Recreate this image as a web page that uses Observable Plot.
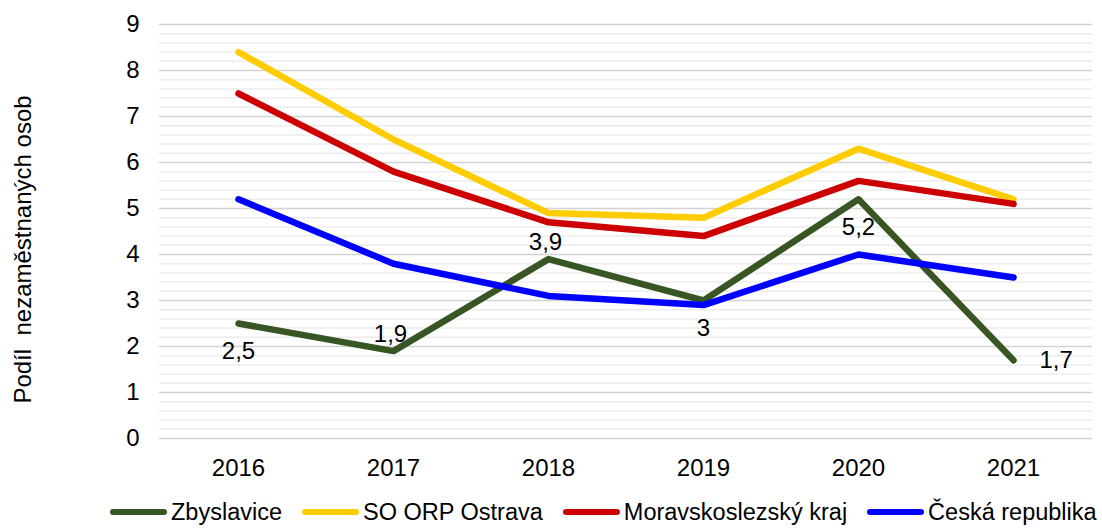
<!DOCTYPE html>
<html>
<head>
<meta charset="utf-8">
<script src="https://cdn.jsdelivr.net/npm/d3@7"></script>
<script src="https://cdn.jsdelivr.net/npm/@observablehq/plot@0.6"></script>
<style>
  html, body { margin: 0; padding: 0; background: #fff; }
  body { width: 1102px; height: 529px; overflow: hidden; font-family: "Liberation Sans", Arial, sans-serif; }
  svg text { white-space: pre; }
  #legend { display: flex; align-items: center; height: 34px; padding-left: 110px; font-size: 23.5px; color: #000; white-space: nowrap; width: 1200px; }
  .item { display: flex; align-items: center; margin-right: 20px; flex-shrink: 0; white-space: nowrap; }
  .sw { width: 57px; height: 6.5px; border-radius: 3.25px; margin-right: 4px; flex-shrink: 0; }
</style>
</head>
<body>
<div id="chart"></div>
<div id="legend"></div>
<script>
const years = ["2016", "2017", "2018", "2019", "2020", "2021"];
const seriesNames = ["Zbyslavice", "SO ORP Ostrava", "Moravskoslezský kraj", "Česká republika"];
const seriesColors = ["#375623", "#ffcc00", "#cc0000", "#0000ff"];
const zbyslavice = [2.5, 1.9, 3.9, 3.0, 5.2, 1.7];
const soOrpOstrava = [8.4, 6.5, 4.9, 4.8, 6.3, 5.2];
const msKraj = [7.5, 5.8, 4.7, 4.4, 5.6, 5.1];
const ceskaRepublika = [5.2, 3.8, 3.1, 2.9, 4.0, 3.5];
const zbyLabelPos = ["below", "above", "above", "below", "below", "right"];
const yTicks = [0, 1, 2, 3, 4, 5, 6, 7, 8, 9];
const yTitle = "Podíl  nezaměstnaných osob";

const seriesValues = [zbyslavice, soOrpOstrava, msKraj, ceskaRepublika];
const rows = [];
seriesNames.forEach((name, i) => {
  years.forEach((yr, j) => rows.push({series: name, year: yr, value: seriesValues[i][j]}));
});
const zbyRows = years.map((yr, j) => ({year: yr, value: zbyslavice[j], pos: zbyLabelPos[j]}));
const fmt = v => String(v).replace(".", ",");
const minorGrid = d3.range(0, 9.001, 0.2).map(v => +v.toFixed(1)).filter(v => !yTicks.includes(v));

const font = "Liberation Sans, Arial, sans-serif";
const chart = Plot.plot({
  width: 1102,
  height: 495,
  marginLeft: 159,
  marginRight: 10,
  marginTop: 24,
  marginBottom: 57,
  style: {fontFamily: font, fontSize: "24px", color: "#000", background: "#fff"},
  x: {type: "point", domain: years, padding: 0.5, label: null},
  y: {domain: [0, 9], label: null},
  color: {domain: seriesNames, range: seriesColors},
  marks: [
    Plot.ruleY(minorGrid, {stroke: "#ececec", strokeWidth: 1.5}),
    Plot.ruleY(yTicks, {stroke: "#d3d3d3", strokeWidth: 1.5}),
    Plot.axisX({tickSize: 0, tickPadding: 20, fontSize: 24, label: null}),
    Plot.axisY({ticks: yTicks, tickSize: 0, tickPadding: 20, fontSize: 24, label: null}),
    Plot.text([yTitle], {frameAnchor: "left", textAnchor: "middle", text: d => d, rotate: -90, dx: -136, dy: 18, fontSize: 24, fill: "#000"}),
    Plot.line(rows, {x: "year", y: "value", z: "series", stroke: "series", strokeWidth: 6.5, strokeLinecap: "round", strokeLinejoin: "round"}),
    Plot.text(zbyRows.filter(d => d.pos === "above"), {x: "year", y: "value", text: d => fmt(d.value), dy: -17, dx: -3, fontSize: 24, fill: "#000"}),
    Plot.text(zbyRows.filter(d => d.pos === "below"), {x: "year", y: "value", text: d => fmt(d.value), dy: 28, fontSize: 24, fill: "#000"}),
    Plot.text(zbyRows.filter(d => d.pos === "right"), {x: "year", y: "value", text: d => fmt(d.value), dx: 26, textAnchor: "start", fontSize: 24, fill: "#000"})
  ]
});
document.getElementById("chart").appendChild(chart);

const legend = document.getElementById("legend");
seriesNames.forEach((name, i) => {
  const item = document.createElement("div");
  item.className = "item";
  const sw = document.createElement("div");
  sw.className = "sw";
  sw.style.background = seriesColors[i];
  const lab = document.createElement("span");
  lab.textContent = name;
  item.appendChild(sw);
  item.appendChild(lab);
  legend.appendChild(item);
});
</script>
</body>
</html>
